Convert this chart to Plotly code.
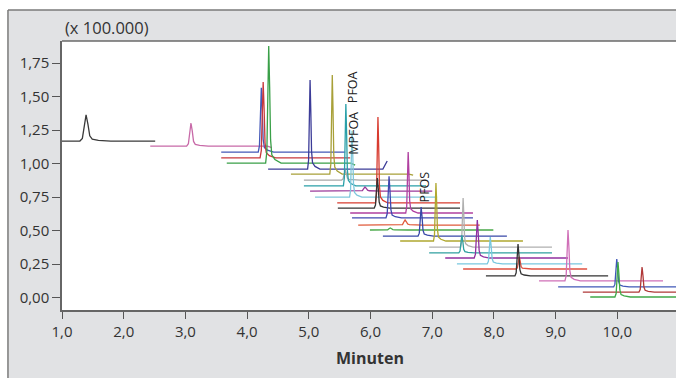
import plotly.graph_objects as go

# ---- data (minutes, intensity x 100.000) ----
trace_start = [1.00, 2.43, 3.58, 3.58, 3.67, 4.34, 4.71, 4.92, 4.92, 5.02, 5.10,
               5.46, 5.47, 5.67, 5.70, 5.80, 5.99, 6.20, 6.48, 6.95, 6.95, 7.21,
               7.40, 7.50, 7.87, 8.73, 9.04, 9.44, 9.56]
trace_end = [2.51, 4.40, 5.59, 5.67, 5.75, 6.27, 6.69, 6.90, 6.90, 7.00, 7.08,
             7.45, 7.45, 7.66, 7.66, 7.77, 7.99, 8.21, 8.47, 8.94, 8.94, 9.20,
             9.43, 9.51, 9.85, 10.74, 10.95, 10.95, 10.95]
baseline = [1.169, 1.132, 1.087, 1.043, 1.005, 0.960, 0.923, 0.878, 0.834, 0.796,
            0.751, 0.707, 0.669, 0.632, 0.595, 0.542, 0.505, 0.460, 0.423, 0.378,
            0.334, 0.296, 0.252, 0.214, 0.162, 0.125, 0.080, 0.042, 0.005]
end_level = [1.169, 1.120, 1.087, 1.043, 0.990, 1.020, 0.915, 0.878, 0.834, 0.796,
             0.751, 0.707, 0.669, 0.632, 0.595, 0.542, 0.505, 0.460, 0.423, 0.378,
             0.334, 0.296, 0.252, 0.214, 0.162, 0.125, 0.080, 0.042, 0.005]
peak_time = [1.39, 3.09, 4.23, 4.26, 4.35, 5.02, 5.38, 5.59, 5.60, 5.91, 5.70,
             6.12, 6.11, 6.61, 6.30, 6.56, 6.32, 6.82, 7.06, 7.50, 7.48, 7.73,
             7.94, 8.41, 8.39, 9.20, 9.99, 10.40, 10.01]
peak_apex = [1.364, 1.304, 1.566, 1.610, 1.878, 1.625, 1.662, 0.953, 1.446, 0.826,
             1.245, 1.349, 0.893, 1.087, 0.907, 0.580, 0.520, 0.677, 0.856, 0.744,
             0.468, 0.580, 0.453, 0.304, 0.401, 0.505, 0.289, 0.229, 0.266]
peak_halfwidth = [0.10, 0.07, 0.05, 0.05, 0.05, 0.04, 0.04, 0.06, 0.04, 0.07, 0.04,
                  0.04, 0.05, 0.04, 0.05, 0.07, 0.07, 0.05, 0.04, 0.04, 0.05, 0.05,
                  0.05, 0.05, 0.05, 0.05, 0.05, 0.05, 0.05]
colors = ["#3a3a3a", "#c86aa8", "#4458b8", "#c8383c", "#3aa048", "#3c3c98",
          "#a8a038", "#a8a8a8", "#2aa0a8", "#9a3a9a", "#80c8dc", "#d83c30",
          "#333333", "#b040a0", "#4048b0", "#e05a3a", "#48a848", "#3848a8",
          "#b0a830", "#b0b0b0", "#30a0a0", "#9030a0", "#78c8e0", "#e05040",
          "#333333", "#d070b8", "#4058b8", "#b03838", "#40a848"]

labels = ["PFOA", "MPFOA", "PFOS"]
label_x = [5.71, 5.72, 6.87]
label_y = [1.569, 1.225, 0.825]

y_ticks = [0.0, 0.25, 0.5, 0.75, 1.0, 1.25, 1.5, 1.75]
x_ticks = [1.0, 2.0, 3.0, 4.0, 5.0, 6.0, 7.0, 8.0, 9.0, 10.0]

# relative peak profile (offset in half-widths, fraction of peak height)
prof_dx = [-1.0, -0.6, -0.3, 0.0, 0.3, 0.6, 1.0, 2.0, 4.0]
prof_h = [0.0, 0.1, 0.6, 1.0, 0.65, 0.2, 0.07, 0.03, 0.0]

fig = go.Figure()
for i in range(len(baseline)):
    b = baseline[i]
    t = peak_time[i]
    w = peak_halfwidth[i]
    h = peak_apex[i] - b
    xs = [trace_start[i]] + [t + d * w for d in prof_dx]
    ys = [b] + [b + f * h for f in prof_h]
    if end_level[i] != b:
        xs += [trace_end[i] - 0.07, trace_end[i]]
        ys += [b, end_level[i]]
    else:
        xs += [trace_end[i]]
        ys += [b]
    fig.add_trace(go.Scatter(x=xs, y=ys, mode="lines",
                             line=dict(color=colors[i], width=1.3),
                             hoverinfo="skip", showlegend=False))

for txt, lx, ly in zip(labels, label_x, label_y):
    fig.add_annotation(x=lx, y=ly, text=txt, showarrow=False, textangle=-90,
                       font=dict(family="Open Sans", size=12.5, color="#222"))

axis_font = dict(family="Open Sans", size=15, color="#333")
fig.update_layout(
    width=676, height=378,
    margin=dict(l=62, r=0, t=41, b=68),
    paper_bgcolor="#e1e2e4", plot_bgcolor="#ffffff",
    separators=",.",
    font=axis_font,
    xaxis=dict(range=[1.0, 10.95], tickvals=x_ticks, tickformat=".1f",
               ticks="outside", ticklen=7, tickwidth=1.2, tickcolor="#555",
               showline=True, linecolor="#666", linewidth=1.5,
               showgrid=False, zeroline=False, tickfont=axis_font),
    yaxis=dict(range=[-0.092, 1.916], tickvals=y_ticks, tickformat=".2f",
               ticks="outside", ticklen=8, tickwidth=1.2, tickcolor="#555",
               showline=True, linecolor="#666", linewidth=1.5,
               showgrid=False, zeroline=False, tickfont=axis_font),
    shapes=[
        dict(type="rect", xref="paper", yref="paper", x0=-0.2, x1=-0.088,
             y0=-0.3, y1=1.3, fillcolor="#ffffff", line=dict(width=0), layer="below"),
        dict(type="rect", xref="paper", yref="paper", x0=-0.2, x1=1.1,
             y0=1.115, y1=1.3, fillcolor="#ffffff", line=dict(width=0), layer="below"),
        dict(type="line", xref="paper", yref="paper", x0=-0.088, x1=1.05,
             y0=1.115, y1=1.115, line=dict(color="#7a7a7a", width=1.5)),
        dict(type="line", xref="paper", yref="paper", x0=-0.088, x1=-0.088,
             y0=-0.3, y1=1.115, line=dict(color="#7a7a7a", width=1.5)),
        dict(type="line", xref="paper", yref="paper", x0=0, x1=1.05,
             y0=1, y1=1, line=dict(color="#6a6a6a", width=1.5)),
    ],
    annotations=list(fig.layout.annotations) + [
        dict(xref="paper", yref="paper", x=0.002, y=1.052, xanchor="left",
             yanchor="middle", text="(x 100.000)", showarrow=False,
             font=dict(family="Open Sans", size=16.5, color="#333")),
        dict(xref="paper", yref="paper", x=0.502, y=-0.178, xanchor="center",
             yanchor="middle", text="<b>Minuten</b>", showarrow=False,
             font=dict(family="Open Sans", size=16, color="#333")),
    ],
)

fig.write_html("out.html")
